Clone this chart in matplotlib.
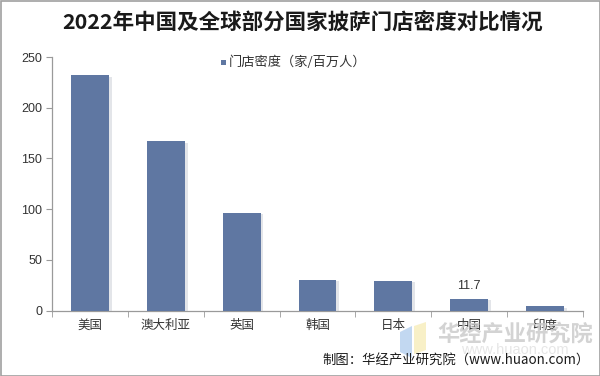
import matplotlib
matplotlib.use("Agg")
import matplotlib.pyplot as plt
import matplotlib.patheffects as pe
from matplotlib.patches import Rectangle, Polygon

plt.rcParams['font.family'] = ['Noto Sans CJK SC', 'DejaVu Sans']

categories = ["美国", "澳大利亚", "英国", "韩国", "日本", "中国", "印度"]
values = [232, 167, 96.5, 30, 29, 11.7, 4]
label_index = 5
series_name = "门店密度（家/百万人）"
title = "2022年中国及全球部分国家披萨门店密度对比情况"
source = "制图：华经产业研究院（www.huaon.com）"
yticks = [0, 50, 100, 150, 200, 250]

bar_color = "#5f77a2"
axis_color = "#9a9a9a"
text_color = "#333333"

fig = plt.figure(figsize=(6.0, 3.76), dpi=100)
ax = fig.add_axes([52/600, 65.5/376, (583-52)/600, (310.5-57)/376])

x = list(range(len(categories)))
bars = ax.bar(x, values, width=0.5, color=bar_color, zorder=3,
              path_effects=[pe.SimplePatchShadow(offset=(2, -1), shadow_rgbFace="#c8ccd4", alpha=0.5), pe.Normal()])

ax.set_xlim(-0.5, len(categories) - 0.5)
ax.set_ylim(0, 250)
ax.set_yticks(yticks)
ax.set_yticklabels([str(v) for v in yticks], fontsize=9, color=text_color, family=['Liberation Sans', 'DejaVu Sans'])
ax.set_xticks(x)
ax.set_xticklabels(categories, fontsize=9, color=text_color)
ax.set_xticks([i + 0.5 for i in range(-1, len(categories))], minor=True)
ax.tick_params(axis='x', which='major', length=0, pad=6)
ax.tick_params(axis='x', which='minor', length=4, color=axis_color, direction='out')
ax.tick_params(axis='y', length=4, color=axis_color, direction='out', pad=3)

for s in ['top', 'right']:
    ax.spines[s].set_visible(False)
for s in ['left', 'bottom']:
    ax.spines[s].set_color(axis_color)
    ax.spines[s].set_linewidth(0.9)

ax.annotate(f"{values[label_index]}", (x[label_index], values[label_index]),
            xytext=(0, 5), textcoords='offset points', ha='center', va='bottom',
            fontsize=9, color=text_color, family=['Liberation Sans', 'DejaVu Sans'])

# title
fig.text(0.505, 1 - 23/376, title, ha='center', va='center', fontsize=15.5,
         fontweight='bold', color="#1a1a1a")

# legend
fig.patches.append(Rectangle((221/600, 1 - 65/376), 5/600, 5/376, transform=fig.transFigure,
                             facecolor=bar_color, edgecolor='none'))
fig.text(229/600, 1 - 62/376, series_name, ha='left', va='center', fontsize=9.5, color=text_color)

# watermark
fig.patches.append(Polygon([(400/600, 1 - 332/376), (412/600, 1 - 326/376), (412/600, 1 - 358/376), (400/600, 1 - 352/376)],
                           closed=True, transform=fig.transFigure, facecolor="#a9c8ec", edgecolor='none', alpha=0.7, zorder=0))
fig.patches.append(Polygon([(414/600, 1 - 326/376), (426/600, 1 - 322/376), (426/600, 1 - 350/376), (414/600, 1 - 354/376)],
                           closed=True, transform=fig.transFigure, facecolor="#f6ebb0", edgecolor='none', alpha=0.7, zorder=0))
fig.text(515/600, 1 - 334/376, "华经产业研究院", ha='center', va='center', fontsize=16,
         fontweight='bold', color="#c8c8c8", alpha=0.8)
fig.text(515/600, 1 - 350/376, "www.huaon.com", ha='center', va='center', fontsize=10.5,
         color="#e0e0e0", alpha=0.8, family=['Liberation Sans', 'DejaVu Sans'])

# source
fig.text(590/600, 1 - 361/376, source, ha='right', va='center', fontsize=9.6, color="#1a1a1a")

# border
fig.patches.append(Rectangle((0.5/600, 0.5/376), 599/600, 375/376, transform=fig.transFigure,
                             facecolor='none', edgecolor="#a0a0a0", linewidth=1.2))

fig.savefig("out.png", dpi=100)
